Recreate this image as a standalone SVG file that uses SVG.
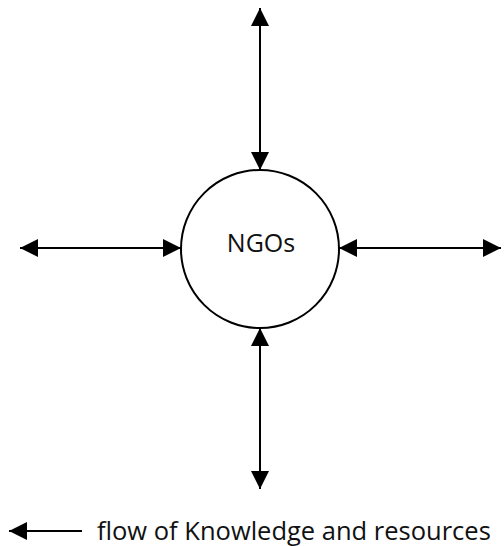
<svg xmlns="http://www.w3.org/2000/svg" width="504" height="546" viewBox="0 0 504 546">
  <style>
    .edge { stroke: #000; stroke-width: 2; fill: none; }
    .node { fill: #fff; stroke: #000; stroke-width: 2; }
    .label { font-family: "Open Sans", "Noto Sans", sans-serif; fill: #111; }
  </style>
  <defs>
    <marker id="head" viewBox="0 0 18 18" refX="18" refY="9" markerWidth="18" markerHeight="18" markerUnits="userSpaceOnUse" orient="auto-start-reverse">
      <path d="M0,0 L18,9 L0,18 Z" fill="#000"/>
    </marker>
  </defs>
  <rect width="504" height="546" fill="#fff"/>
  <g id="connectors">
    <line class="edge" x1="260" y1="8" x2="260" y2="170" marker-start="url(#head)" marker-end="url(#head)"/>
    <line class="edge" x1="260" y1="328" x2="260" y2="489" marker-start="url(#head)" marker-end="url(#head)"/>
    <line class="edge" x1="20" y1="248" x2="181" y2="248" marker-start="url(#head)" marker-end="url(#head)"/>
    <line class="edge" x1="339" y1="248" x2="501" y2="248" marker-start="url(#head)" marker-end="url(#head)"/>
  </g>
  <g id="ngos">
    <circle class="node" cx="260" cy="249" r="79"/>
    <text class="label" x="261" y="252" font-size="25" text-anchor="middle">NGOs</text>
  </g>
  <g id="legend">
    <line class="edge" x1="9" y1="531" x2="82" y2="531" marker-start="url(#head)"/>
    <text class="label" x="97" y="540" font-size="25.5">flow of Knowledge and resources</text>
  </g>
</svg>
